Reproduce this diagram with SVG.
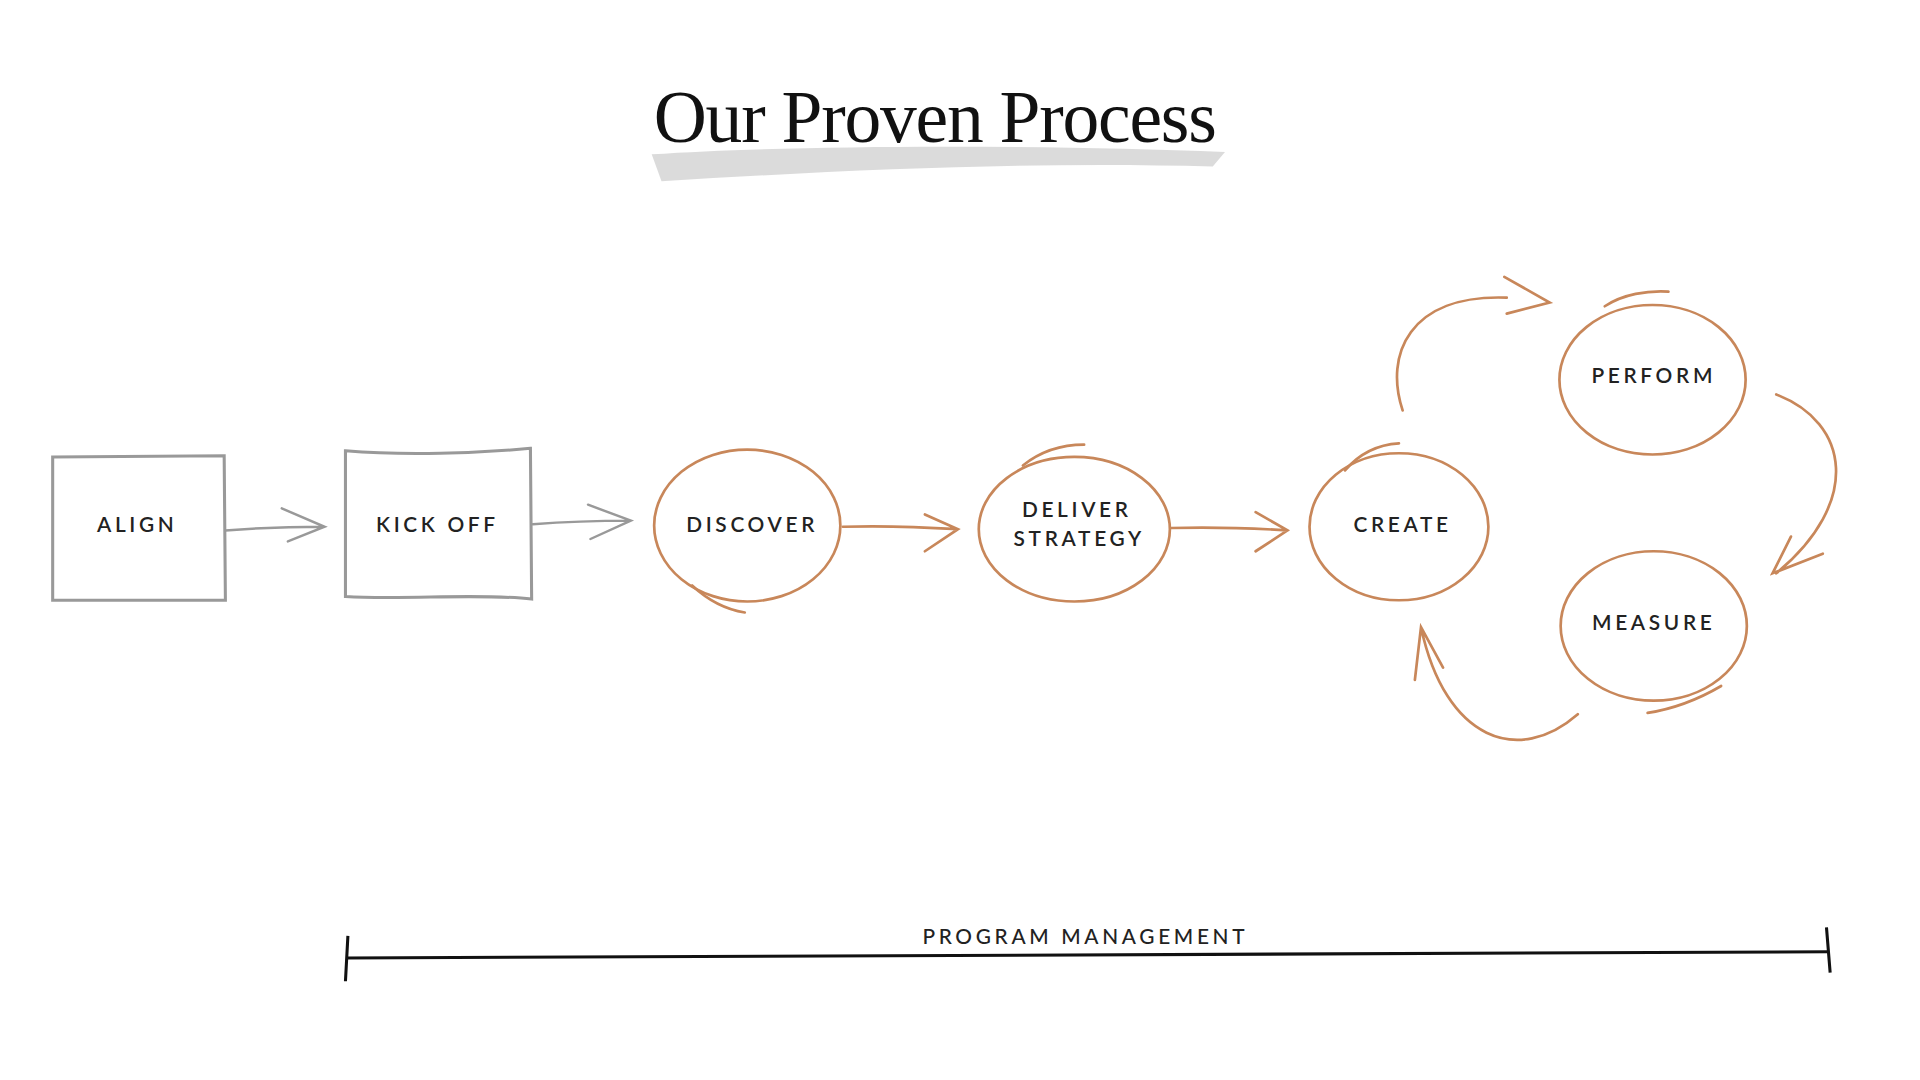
<svg xmlns="http://www.w3.org/2000/svg" width="1920" height="1080" viewBox="0 0 1920 1080">
<style>
.lbl{font-family:"Lato","Open Sans",sans-serif;font-size:17px;letter-spacing:3px;fill:#222;text-anchor:middle;font-weight:600}
.box{fill:none;stroke:#999;stroke-width:2.5}
.g{fill:none;stroke:#999;stroke-width:2;stroke-linecap:round}
.o{fill:none;stroke:#c8875a;stroke-width:2.2;stroke-linecap:round}
</style>
<rect width="1920" height="1080" fill="#fff"/>
<g transform="scale(1.225)">
<g id="title">
<path d="M532,126 C650,118 850,118 1000,124 L990,136 C850,132 700,138 540,148 Z" fill="#ccc" opacity="0.7"/>
<text x="763" y="116" font-family="Liberation Serif,serif" font-size="60" letter-spacing="-1" text-anchor="middle" fill="#111">Our Proven Process</text>
</g>
<g id="align"><path class="box" d="M43,373 L183,372 L184,490 L43,490 Z"/><text class="lbl" x="112" y="434">ALIGN</text></g>
<g id="kickoff"><path class="box" d="M282,368 C330,372 390,370 433,366 L434,489 C390,484 330,490 282,487 Z"/><text class="lbl" x="357" y="434">KICK OFF</text></g>
<g id="discover"><ellipse class="o" cx="610" cy="429" rx="76" ry="62"/><path class="o" d="M565,478 C580,492 595,498 608,500"/><text class="lbl" x="614" y="434">DISCOVER</text></g>
<g id="deliver"><ellipse class="o" cx="877" cy="432" rx="78" ry="59"/><path class="o" d="M835,380 C850,368 868,363 885,363"/><text class="lbl" x="879" y="422">DELIVER</text><text class="lbl" x="881" y="446">STRATEGY</text></g>
<g id="create"><ellipse class="o" cx="1142" cy="430" rx="73" ry="60"/><path class="o" d="M1098,384 C1110,370 1125,363 1142,362"/><text class="lbl" x="1145" y="434">CREATE</text></g>
<g id="perform"><ellipse class="o" cx="1349" cy="310" rx="76" ry="61"/><path class="o" d="M1310,250 C1325,240 1345,237 1362,238"/><text class="lbl" x="1350" y="313">PERFORM</text></g>
<g id="measure"><ellipse class="o" cx="1350" cy="511" rx="76" ry="61"/><path class="o" d="M1345,582 C1370,578 1388,570 1405,560"/><text class="lbl" x="1350" y="514">MEASURE</text></g>
<g id="program"><path d="M283,782 C700,781 1100,779 1493,777" fill="none" stroke="#111" stroke-width="2.5"/><path d="M284,764 L282,801 M1491,757 L1494,794" fill="none" stroke="#111" stroke-width="2.5"/><text class="lbl" x="886" y="771" style="font-weight:500">PROGRAM MANAGEMENT</text></g>
<g id="connectors">
<path class="g" d="M184,433 C210,431 240,430 265,430 M230,415 L265,430 L235,442"/>
<path class="g" d="M435,428 C460,426 490,425 515,425 M480,412 L515,425 L482,440"/>
<path class="o" d="M688,430 C720,429 750,430 782,432 M755,420 L782,432 L755,450"/>
<path class="o" d="M956,431 C990,430 1020,431 1051,433 M1025,418 L1051,433 L1025,450"/>
<path class="o" d="M1145,335 C1130,290 1150,240 1230,243 M1228,226 L1265,247 L1230,256"/>
<path class="o" d="M1450,322 C1510,345 1520,410 1450,468 M1462,438 L1447,468 L1488,452"/>
<path class="o" d="M1288,583 C1240,625 1180,605 1160,512 M1155,555 L1160,512 L1178,545"/>
</g>
</g>
</svg>
